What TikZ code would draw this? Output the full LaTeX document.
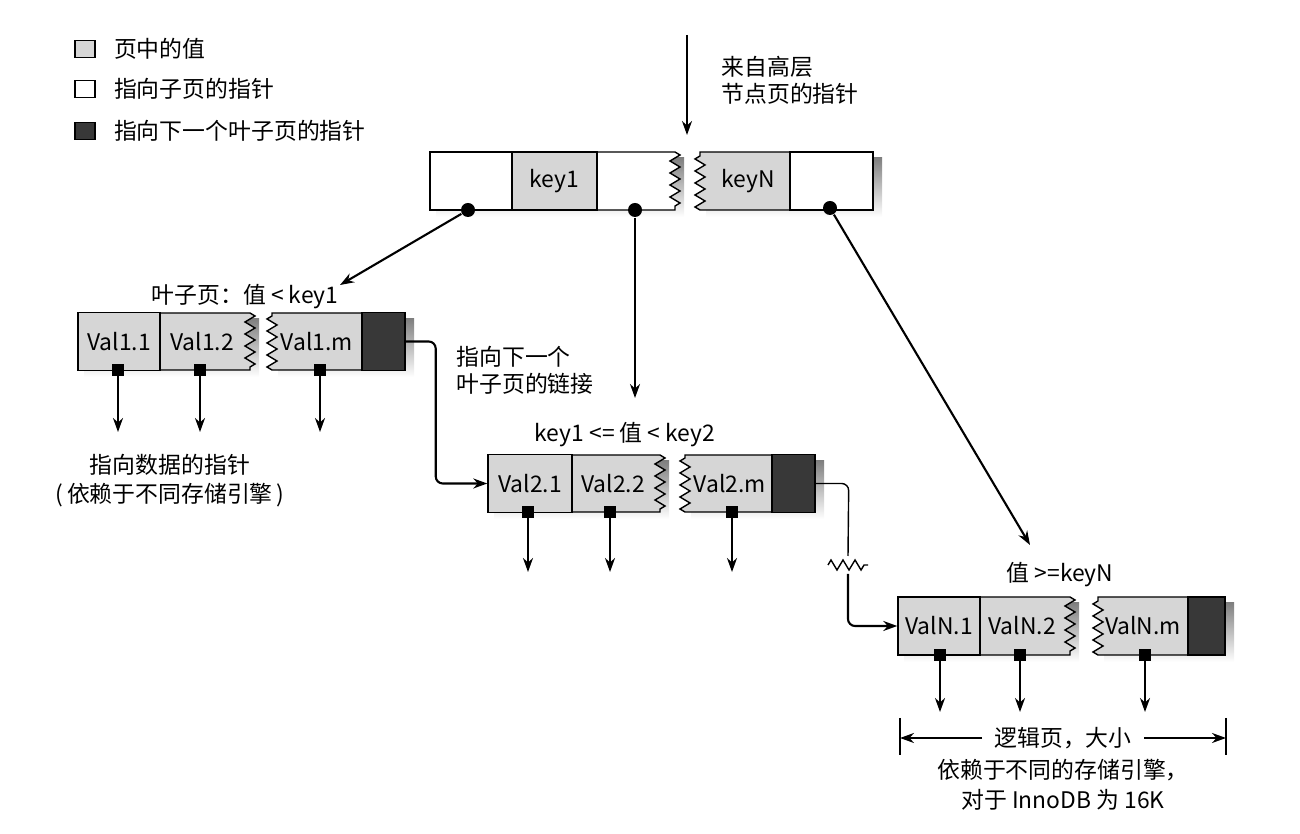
\documentclass[tikz,border=0pt]{standalone}
\usepackage{fontspec}
\setmainfont{Noto Sans CJK SC}
\usetikzlibrary{decorations.pathmorphing,arrows.meta,positioning}
\definecolor{valgray}{gray}{0.84}
\definecolor{nextdark}{gray}{0.22}
\definecolor{shade}{gray}{0.55}

% piece with a torn right end / torn left end: x0, x1, top, bottom, fill
\newcommand\rzig[5]{%
  \fill[shade] (#1+6,#3+6) rectangle (#2+9,#4+7);
  \draw[fill=#5] (#1,#3) -- (#2,#3) decorate[zig]{-- (#2,#4)} -- (#1,#4) -- cycle;}
\newcommand\lzig[5]{%
  \fill[shade] (#1+6,#3+6) rectangle (#2+9,#4+7);
  \draw[fill=#5] (#1,#4) decorate[zig]{-- (#1,#3)} -- (#2,#3) -- (#2,#4) -- cycle;}

\begin{document}
\begin{tikzpicture}[x=0.01cm, y=-0.01cm,
    font=\fontsize{6.5}{7.7}\selectfont,
    zig/.style={decoration={zigzag, segment length=0.12cm, amplitude=0.05cm}},
    cell/.style={draw, minimum height=0.58cm, inner sep=0pt},
    dot/.style={circle, fill=black, inner sep=0pt, minimum size=0.14cm},
    sq/.style={rectangle, fill=black, inner sep=0pt, minimum size=0.12cm},
    arr/.style={-{Stealth[length=0.14cm, width=0.1cm]}, semithick},
    box/.style={draw, minimum width=0.2cm, minimum height=0.17cm, inner sep=0pt}]
\useasboundingbox (0,0) rectangle (1300,834);

% legend
\node[box, fill=valgray]  (lv) at (85,49)  {};
\node[box, fill=white]    (lp) at (85,89)  {};
\node[box, fill=nextdark] (ln) at (85,131) {};
\node[right=0.06cm of lv] {页中的值};
\node[right=0.06cm of lp] {指向子页的指针};
\node[right=0.06cm of ln] {指向下一个叶子页的指针};

% root page
\coordinate (top) at (687,35);
\coordinate (rt) at (687,135);
\draw[arr] (top) -- (rt);
\node[align=left] (rtext) at (790,80) {来自高层\\节点页的指针};
\rzig{430}{675}{152}{210}{white}
\lzig{700}{873}{152}{210}{valgray}
\node[cell, fill=white, minimum width=0.82cm] (c1) at (471,181) {};
\node[cell, fill=valgray, minimum width=0.85cm] (k1) at (554.5,181) {key1};
\node[cell, fill=white, minimum width=0.83cm] (c3) at (831.5,181) {};
\node (kN) at (748,181) {keyN};
\node[dot] (d1) at (468,210) {};
\node[dot] (d2) at (635,210) {};
\node[dot] (d3) at (830,208) {};

% leaf 1
\node (l1) at (245,297) {叶子页：值 < key1};
\rzig{78}{250}{313}{370}{valgray}
\lzig{272}{405}{313}{370}{valgray}
\node[cell, fill=valgray, minimum width=0.82cm] (v11) at (119,341.5) {Val1.1};
\node (v12) at (202,341.5) {Val1.2};
\node[cell, fill=nextdark, minimum width=0.43cm] (n1) at (383.5,341.5) {};
\node (v1m) at (317,341.5) {Val1.m};
\foreach \n/\x in {a/118, b/200, c/320} {
  \node[sq] (s1\n) at (\x,370) {};
  \draw[arr] (s1\n.center) -- ++(0,62);
}
\node (dp) at (170,465) {指向数据的指针};
\node (dp2) at (170,495) {(\,依赖于不同存储引擎\,)};

% leaf 2
\node (l2) at (625,435) {key1 <= 值 < key2};
\rzig{488}{660}{455}{512}{valgray}
\lzig{685}{815}{455}{512}{valgray}
\node[cell, fill=valgray, minimum width=0.84cm] (v21) at (530,483.5) {Val2.1};
\node (v22) at (613,483.5) {Val2.2};
\node[cell, fill=nextdark, minimum width=0.43cm] (n2) at (793.5,483.5) {};
\node (v2m) at (730,483.5) {Val2.m};
\foreach \n/\x in {a/528, b/610, c/732} {
  \node[sq] (s2\n) at (\x,512) {};
  \draw[arr] (s2\n.center) -- ++(0,60);
}
\node[align=left] (lnk) at (525,370) {指向下一个\\叶子页的链接};

% leaf N
\node (l3) at (1060,575) {值 >=keyN};
\rzig{898}{1070}{597}{655}{valgray}
\lzig{1098}{1225}{597}{655}{valgray}
\node[cell, fill=valgray, minimum width=0.82cm] (vN1) at (939,626) {ValN.1};
\node (vN2) at (1022,626) {ValN.2};
\node[cell, fill=nextdark, minimum width=0.37cm] (nN) at (1206.5,626) {};
\node (vNm) at (1143,626) {ValN.m};
\foreach \n/\x in {a/940, b/1020, c/1145} {
  \node[sq] (sN\n) at (\x,655) {};
  \draw[arr] (sN\n.center) -- ++(0,57);
}

% child pointers
\coordinate (t1) at (340,285);
\coordinate (t2) at (635,398);
\coordinate (t3) at (1030,545);
\draw[arr] (d1) -- (t1);
\draw[arr] (d2) -- (t2);
\draw[arr] (d3) -- (t3);

% next-leaf links
\draw[arr, rounded corners=2pt] (n1.east) -- ++(30,0) |- (v21.west);
\coordinate (gap1) at (848,556);
\coordinate (gap2) at (848,574);
\draw[rounded corners=2pt] (n2.east) -- ++(33,0) -- (gap1);
\draw[arr, rounded corners=2pt] (gap2) |- (vN1.west);
\draw[decorate, zig] (828,565) -- (868,565);

% page size note
\node (lg) at (1063,738) {逻辑页，大小};
\node (lg2) at (1063,770) {依赖于不同的存储引擎，};
\node (lg3) at (1063,800) {对于 InnoDB 为 16K};
\coordinate (bl) at (900,738);
\coordinate (br) at (1226,738);
\draw (900,718) -- (900,755);
\draw (1226,718) -- (1226,755);
\draw[arr] (lg.west) -- (bl);
\draw[arr] (lg.east) -- (br);
\end{tikzpicture}
\end{document}
